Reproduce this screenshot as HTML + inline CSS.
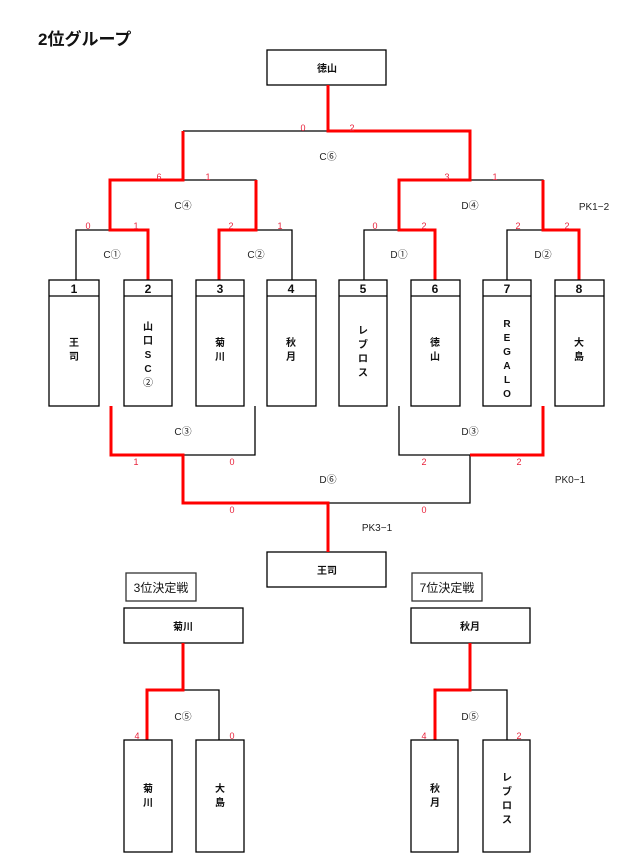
<!DOCTYPE html>
<html><head><meta charset="utf-8"><style>
body{margin:0;background:#fff;}
svg{display:block;font-family:"Liberation Sans","Noto Sans CJK JP",sans-serif;}
.s{fill:#e8213a;font-size:9px;text-anchor:middle;}
.l{fill:#222;font-size:10px;text-anchor:middle;}
.n{fill:#111;font-size:12px;font-weight:bold;text-anchor:middle;}
.t{fill:#111;font-size:10px;font-weight:bold;text-anchor:middle;}
</style></head><body>
<svg width="636" height="864" viewBox="0 0 636 864">
<text x="38" y="45" font-size="17" font-weight="bold" fill="#111">2位グループ</text>
<g fill="none" stroke="#000" stroke-width="1.3">
<rect x="267" y="50" width="119" height="35"/>
<rect x="267" y="552" width="119" height="35"/>
<rect x="124" y="608" width="119" height="35"/>
<rect x="411" y="608" width="119" height="35"/>
<rect x="126" y="573" width="70" height="28" stroke="#333"/>
<rect x="412" y="573" width="70" height="28" stroke="#333"/>
<!-- black lines -->
<path d="M183 131H328 M183 180H256V230 M470 180H543V230 M76 280V230H110 M292 280V230H256 M364 280V230H399 M507 280V230H543"/>
<path d="M255 406V455H183 M399 406V455H470V503H328"/>
<path d="M183 690H219V740 M470 690H507V740"/>
</g>
<g fill="none" stroke="#f00" stroke-width="3">
<path d="M328 85V131H470V180H399V230H435V280"/>
<path d="M183 131V180H110V230H148V280"/>
<path d="M256 180V230H219V280"/>
<path d="M543 180V230H579V280"/>
<path d="M111 406V455H183V503H328V552"/>
<path d="M543 406V455H470"/>
<path d="M183 643V690H147V740"/>
<path d="M470 643V690H435V740"/>
</g>
<g fill="none" stroke="#000" stroke-width="1.3">
<rect x="49" y="280" width="50" height="126"/><line x1="49" y1="296" x2="99" y2="296"/>
<rect x="124" y="280" width="48" height="126"/><line x1="124" y1="296" x2="172" y2="296"/>
<rect x="196" y="280" width="48" height="126"/><line x1="196" y1="296" x2="244" y2="296"/>
<rect x="267" y="280" width="49" height="126"/><line x1="267" y1="296" x2="316" y2="296"/>
<rect x="339" y="280" width="48" height="126"/><line x1="339" y1="296" x2="387" y2="296"/>
<rect x="411" y="280" width="49" height="126"/><line x1="411" y1="296" x2="460" y2="296"/>
<rect x="483" y="280" width="48" height="126"/><line x1="483" y1="296" x2="531" y2="296"/>
<rect x="555" y="280" width="49" height="126"/><line x1="555" y1="296" x2="604" y2="296"/>
<rect x="124" y="740" width="48" height="112"/>
<rect x="196" y="740" width="48" height="112"/>
<rect x="411" y="740" width="47" height="112"/>
<rect x="483" y="740" width="47" height="112"/>
</g>
<text class="n" x="74" y="293">1</text><text class="n" x="148" y="293">2</text><text class="n" x="220" y="293">3</text><text class="n" x="291" y="293">4</text>
<text class="n" x="363" y="293">5</text><text class="n" x="435" y="293">6</text><text class="n" x="507" y="293">7</text><text class="n" x="579" y="293">8</text>
<text class="t" x="327" y="72">徳山</text>
<text class="t" x="327" y="574">王司</text>
<text class="t" x="183" y="630">菊川</text>
<text class="t" x="470" y="630">秋月</text>
<text x="161" y="592" font-size="12" text-anchor="middle" fill="#111">3位決定戦</text>
<text x="447" y="592" font-size="12" text-anchor="middle" fill="#111">7位決定戦</text>
<g class="t">
<text x="74" y="346">王</text><text x="74" y="360">司</text>
<text x="148" y="330">山</text><text x="148" y="344">口</text><text x="148" y="358">S</text><text x="148" y="372">C</text><text x="148" y="386" font-weight="normal">②</text>
<text x="220" y="346">菊</text><text x="220" y="360">川</text>
<text x="291" y="346">秋</text><text x="291" y="360">月</text>
<text x="363" y="334">レ</text><text x="363" y="348">ブ</text><text x="363" y="362">ロ</text><text x="363" y="376">ス</text>
<text x="435" y="346">徳</text><text x="435" y="360">山</text>
<text x="507" y="327">R</text><text x="507" y="341">E</text><text x="507" y="355">G</text><text x="507" y="369">A</text><text x="507" y="383">L</text><text x="507" y="397">O</text>
<text x="579" y="346">大</text><text x="579" y="360">島</text>
<text x="148" y="792">菊</text><text x="148" y="806">川</text>
<text x="220" y="792">大</text><text x="220" y="806">島</text>
<text x="435" y="792">秋</text><text x="435" y="806">月</text>
<text x="507" y="781">レ</text><text x="507" y="795">ブ</text><text x="507" y="809">ロ</text><text x="507" y="823">ス</text>
</g>
<g class="s">
<text x="303" y="131">0</text><text x="352" y="131">2</text>
<text x="159" y="180">6</text><text x="208" y="180">1</text><text x="447" y="180">3</text><text x="495" y="180">1</text>
<text x="88" y="229">0</text><text x="136" y="229">1</text><text x="231" y="229">2</text><text x="280" y="229">1</text>
<text x="375" y="229">0</text><text x="424" y="229">2</text><text x="518" y="229">2</text><text x="567" y="229">2</text>
<text x="136" y="465">1</text><text x="232" y="465">0</text><text x="424" y="465">2</text><text x="519" y="465">2</text>
<text x="232" y="513">0</text><text x="424" y="513">0</text>
<text x="137" y="739">4</text><text x="232" y="739">0</text><text x="424" y="739">4</text><text x="519" y="739">2</text>
</g>
<g class="l">
<text x="328" y="160">C⑥</text><text x="183" y="209">C④</text><text x="470" y="209">D④</text>
<text x="112" y="258">C①</text><text x="256" y="258">C②</text><text x="399" y="258">D①</text><text x="543" y="258">D②</text>
<text x="594" y="210">PK1−2</text>
<text x="183" y="435">C③</text><text x="470" y="435">D③</text>
<text x="570" y="483">PK0−1</text><text x="328" y="483">D⑥</text><text x="377" y="531">PK3−1</text>
<text x="183" y="720">C⑤</text><text x="470" y="720">D⑤</text>
</g>
</svg>
</body></html>
